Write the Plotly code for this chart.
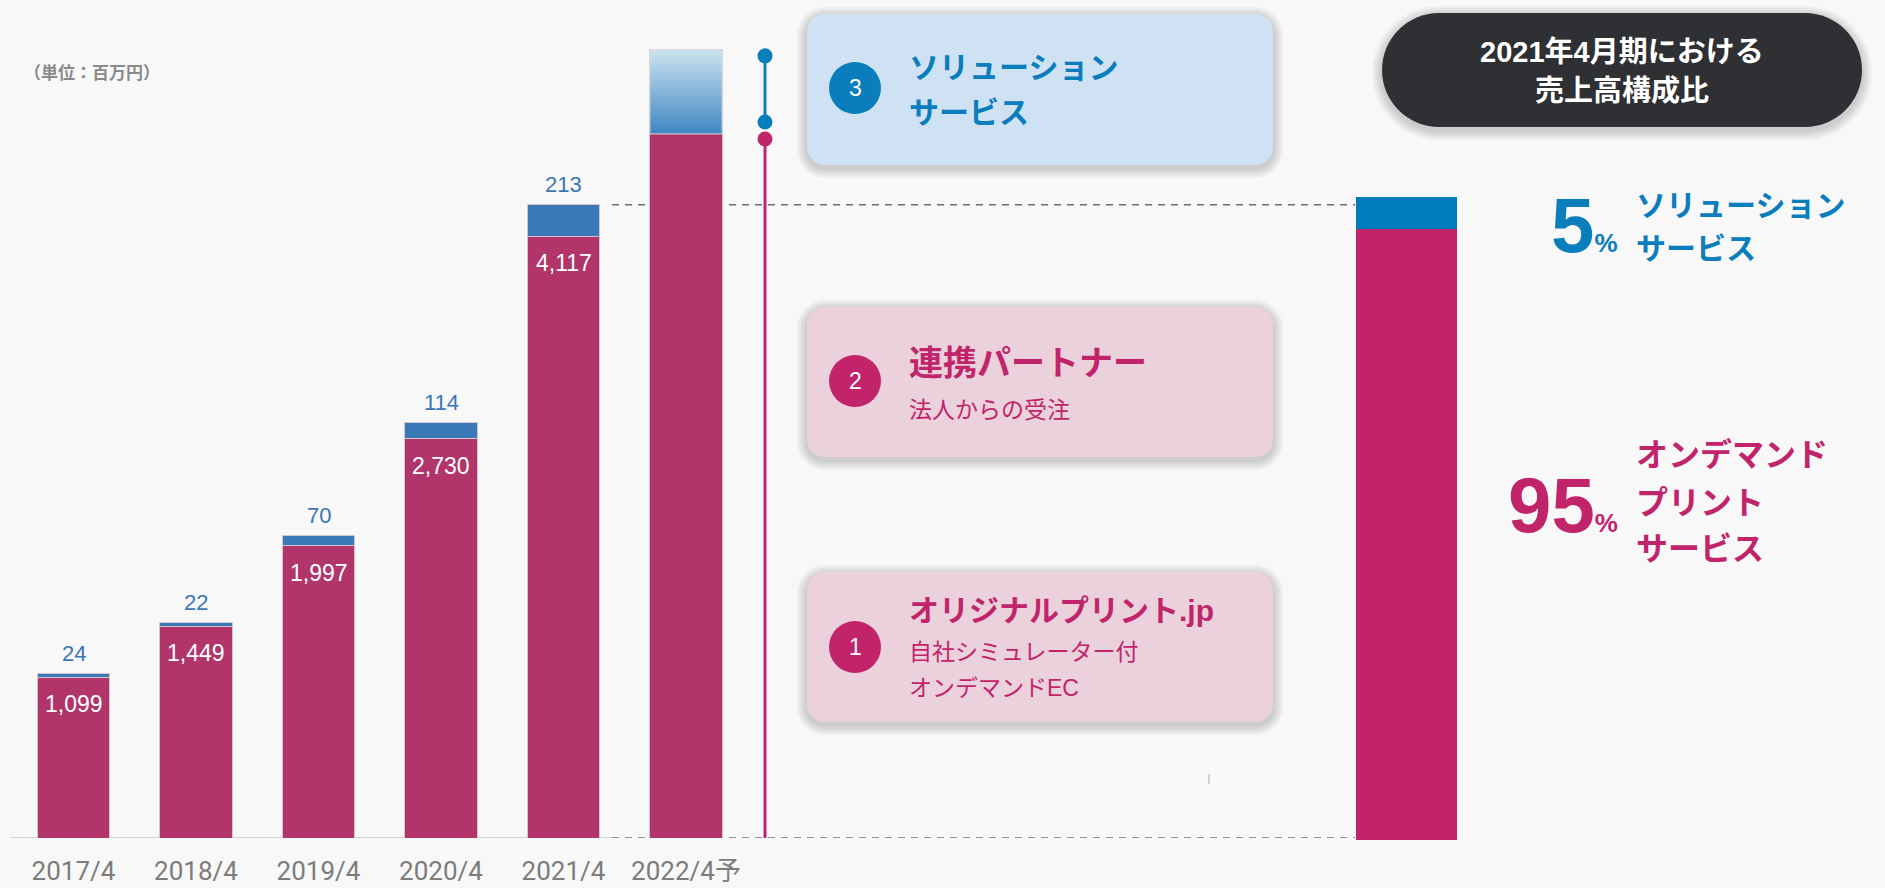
import plotly.graph_objects as go

W, H = 1885, 888

# sales by fiscal year (million yen)
years = ["2017/4", "2018/4", "2019/4", "2020/4", "2021/4", "2022/4予"]
print_sales = [1099, 1449, 1997, 2730, 4117, 4815]
solution_sales = [24, 22, 70, 114, 213, 575]
has_labels = [True, True, True, True, True, False]

# FY2021/4 composition (%)
share_names = ["オンデマンドプリントサービス", "ソリューションサービス"]
share_pct = [95, 5]

PINK = "#b1346a"
BLUE = "#3b78b7"
MAGENTA = "#c2246c"
CYAN = "#0a7dbd"
FONT = "Liberation Sans, Noto Sans CJK JP, sans-serif"

# pixel geometry of the bar panel
BASE = 838            # baseline pixel row
K = 602 / 4117        # pixels per million yen
X0, STEP = 73.5, 122.5
BAR_W = 0.59


def px(x):
    return x / W


def py(y):
    return 1 - y / H


def rounded_path(x0, y0, x1, y1, r):
    c = r * (1 - 0.5523)
    segs = [
        ("M", [(x0 + r, y0)]),
        ("L", [(x1 - r, y0)]),
        ("C", [(x1 - c, y0), (x1, y0 + c), (x1, y0 + r)]),
        ("L", [(x1, y1 - r)]),
        ("C", [(x1, y1 - c), (x1 - c, y1), (x1 - r, y1)]),
        ("L", [(x0 + r, y1)]),
        ("C", [(x0 + c, y1), (x0, y1 - c), (x0, y1 - r)]),
        ("L", [(x0, y0 + r)]),
        ("C", [(x0, y0 + c), (x0 + c, y0), (x0 + r, y0)]),
    ]
    out = []
    for cmd, pts in segs:
        out.append(cmd + " ".join(f"{px(x):.5f},{py(y):.5f}" for x, y in pts))
    return " ".join(out) + " Z"


def card(x0, y0, x1, y1, r, fill):
    shapes = []
    for g in (10, 8, 6, 4, 2):
        shapes.append(dict(
            type="path", xref="paper", yref="paper",
            path=rounded_path(x0 - g, y0 - g + 3, x1 + g, y1 + g + 3, r + g),
            fillcolor="rgba(0,0,0,0.035)", line=dict(width=0), layer="below",
        ))
    shapes.append(dict(
        type="path", xref="paper", yref="paper",
        path=rounded_path(x0, y0, x1, y1, r),
        fillcolor=fill, line=dict(width=0), layer="below",
    ))
    return shapes


def text(x, y, s, size, color, xanchor="left", bold=True, family=FONT):
    return dict(
        x=px(x), y=py(y), xref="paper", yref="paper", text=s, showarrow=False,
        xanchor=xanchor, yanchor="middle",
        font=dict(family=family, size=size, color=color, weight="bold" if bold else "normal"),
    )


xs = list(range(len(years)))
totals = [a + b for a, b in zip(print_sales, solution_sales)]

fig = go.Figure()
fig.add_trace(go.Bar(
    x=xs, y=print_sales, width=BAR_W, marker=dict(color=PINK, line=dict(color="#d2c6cc", width=1)),
    xaxis="x", yaxis="y", hoverinfo="skip",
))
fig.add_trace(go.Bar(
    x=xs, y=solution_sales, width=BAR_W, marker=dict(color=BLUE, line=dict(color="#d2c6cc", width=1)),
    xaxis="x", yaxis="y", hoverinfo="skip",
))

# forecast solution segment drawn with a vertical gradient
i = len(years) - 1
fig.add_trace(go.Scatter(
    x=[i - BAR_W / 2, i + BAR_W / 2, i + BAR_W / 2, i - BAR_W / 2, i - BAR_W / 2],
    y=[print_sales[i], print_sales[i], totals[i], totals[i], print_sales[i]],
    mode="lines", fill="toself", line=dict(width=1, color="#d6dde4"),
    fillgradient=dict(type="vertical", colorscale=[[0, "#3f86c2"], [1, "#cde3f0"]],
                      start=print_sales[i], stop=totals[i]),
    xaxis="x", yaxis="y", hoverinfo="skip",
))

# connector lines beside the forecast bar
cx = (765 - X0) / STEP
fig.add_trace(go.Scatter(
    x=[cx, cx], y=[print_sales[i] + 12 / K, totals[i] - 6 / K], mode="lines+markers",
    line=dict(color=CYAN, width=3), marker=dict(size=15, color=CYAN),
    xaxis="x", yaxis="y", cliponaxis=False, hoverinfo="skip",
))
fig.add_trace(go.Scatter(
    x=[cx, cx], y=[-2 / K, print_sales[i] - 5 / K], mode="lines+markers",
    line=dict(color=MAGENTA, width=3), marker=dict(size=15, color=MAGENTA),
    xaxis="x", yaxis="y", cliponaxis=False, hoverinfo="skip",
))

# composition bar
fig.add_trace(go.Bar(
    x=[0], y=[share_pct[0]], width=1, marker=dict(color="#c2246c", line=dict(width=0)),
    xaxis="x2", yaxis="y2", hoverinfo="skip",
))
fig.add_trace(go.Bar(
    x=[0], y=[share_pct[1]], width=1, marker=dict(color="#007bbb", line=dict(width=0)),
    xaxis="x2", yaxis="y2", hoverinfo="skip",
))

annotations = []
for j, show in enumerate(has_labels):
    if not show:
        continue
    annotations.append(dict(
        x=j, y=print_sales[j], xref="x", yref="y", text=f"{print_sales[j]:,}",
        showarrow=False, yanchor="middle", yshift=-27,
        font=dict(family=FONT, size=23, color="white"),
    ))
    annotations.append(dict(
        x=j, y=totals[j], xref="x", yref="y", text=f"{solution_sales[j]:,}",
        showarrow=False, yanchor="middle", yshift=20,
        font=dict(family=FONT, size=22, color="#3a77b4"),
    ))

annotations.append(text(22, 73, "（単位：百万円）", 17, "#8a8a8a"))

# cards
annotations += [
    text(855, 88, "3", 23, "white", xanchor="center", bold=False),
    text(907, 67, "ソリューション", 30, CYAN),
    text(907, 112, "サービス", 30, CYAN),
    text(855, 381, "2", 23, "white", xanchor="center", bold=False),
    text(907, 363, "連携パートナー", 34, MAGENTA),
    text(907, 410, "法人からの受注", 23, MAGENTA, bold=False),
    text(855, 647, "1", 23, "white", xanchor="center", bold=False),
    text(907, 610, "オリジナルプリント.jp", 30, MAGENTA),
    text(907, 652, "自社シミュレーター付", 23, MAGENTA, bold=False),
    text(907, 688, "オンデマンドEC", 23, MAGENTA, bold=False),
]

# right panel
annotations += [
    text(1622, 52, "2021年4月期における", 29, "white", xanchor="center"),
    text(1622, 91, "売上高構成比", 29, "white", xanchor="center"),
    text(1620, 225, f"{share_pct[1]}<span style='font-size:26px'>%</span>", 78, CYAN, xanchor="right"),
    text(1634, 205, "ソリューション", 30, CYAN),
    text(1634, 248, "サービス", 30, CYAN),
    text(1620, 505, f"{share_pct[0]}<span style='font-size:26px'>%</span>", 78, MAGENTA, xanchor="right"),
    text(1634, 455, "オンデマンド", 32, MAGENTA),
    text(1634, 503, "プリント", 32, MAGENTA),
    text(1634, 549, "サービス", 32, MAGENTA),
]

shapes = []
shapes += card(807, 14, 1273, 165, 18, "#cfe2f3")
shapes += card(807, 307, 1273, 457, 18, "#ebd1dc")
shapes += card(807, 572, 1273, 722, 18, "#ebd1dc")
shapes += card(1382, 13, 1862, 127, 57, "#2f3033")

for cy, col in ((88, CYAN), (381, MAGENTA), (647, MAGENTA)):
    shapes.append(dict(type="circle", xref="paper", yref="paper",
                       x0=px(855 - 26), x1=px(855 + 26), y0=py(cy + 26), y1=py(cy - 26),
                       fillcolor=col, line=dict(width=0)))

# baseline and guide lines
shapes.append(dict(type="line", xref="paper", yref="y", x0=px(10), x1=px(612), y0=0, y1=0,
                   line=dict(color="#d4d4d4", width=2), layer="below"))
for yv in (0, totals[4]):
    shapes.append(dict(type="line", xref="paper", yref="y", x0=px(612), x1=px(1355), y0=yv, y1=yv,
                       line=dict(color="#6e6e6e", width=1.5, dash="7px,6px"), layer="below"))
shapes.append(dict(type="line", xref="paper", yref="paper", x0=px(1209), x1=px(1209), y0=py(774), y1=py(784),
                   line=dict(color="#aaaaaa", width=1)))

fig.update_layout(
    width=W, height=H, margin=dict(l=0, r=0, t=0, b=0),
    paper_bgcolor="#f8f8f8", plot_bgcolor="rgba(0,0,0,0)",
    barmode="stack", showlegend=False,
    xaxis=dict(domain=[0, 1], range=[-X0 / STEP, (W - X0) / STEP], anchor="y",
               tickvals=xs, ticktext=years, showgrid=False, zeroline=False, showline=False,
               ticks="", ticklabelstandoff=15,
               tickfont=dict(family="Roboto, Noto Sans CJK JP, sans-serif", size=26, color="#7c7c7c")),
    yaxis=dict(domain=[(H - BASE) / H, 1], range=[0, BASE / K], visible=False),
    xaxis2=dict(domain=[px(1356), px(1457)], range=[-0.5, 0.5], anchor="y2", visible=False),
    yaxis2=dict(domain=[(H - 840) / H, 1], range=[0, 100 * 840 / (840 - 197)], anchor="x2", visible=False),
    shapes=shapes, annotations=annotations,
)

# drop the default page margin so the figure sits at the window's origin
fig.write_html("out.html", config={"displayModeBar": False},
               post_script="document.body.style.margin='0';")
